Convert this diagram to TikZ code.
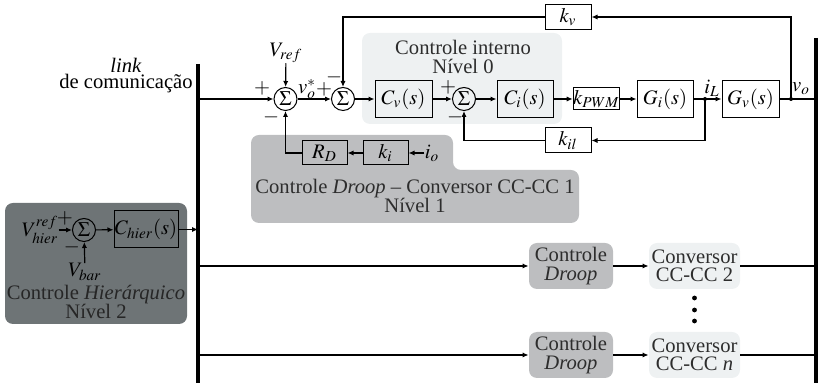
\documentclass[tikz,border=0pt]{standalone}
\usepackage{mathptmx}
\usepackage[no-math]{fontspec}
\setmainfont{Liberation Serif}
\usetikzlibrary{arrows.meta,positioning,calc}
\definecolor{innerbg}{RGB}{238,241,242}
\definecolor{droopbg}{RGB}{189,190,192}
\definecolor{hierbg}{RGB}{110,116,118}
\definecolor{txtgray}{RGB}{45,45,45}

\begin{document}
\begin{tikzpicture}[x=0.5pt,y=-0.5pt,>={Latex[length=3pt,width=2.6pt]},
    every node/.style={font=\rmfamily\fontsize{10.3}{9.2}\selectfont,inner sep=0pt},
    sig/.style={line width=0.6pt},
    bus/.style={line width=1.6pt},
    blk/.style={draw,line width=0.5pt,minimum width=28.5pt,minimum height=18.5pt},
    gain/.style={draw,line width=0.5pt,minimum width=23pt,minimum height=12.5pt},
    sumnode/.style={draw,circle,line width=0.5pt,minimum size=11.5pt},
    droopbox/.style={fill=droopbg,rounded corners=4pt,minimum width=42pt,minimum height=23pt,align=center,text=txtgray},
    convbox/.style={fill=innerbg,rounded corners=4pt,minimum width=45.5pt,minimum height=23pt,align=center,text=txtgray}]
  \useasboundingbox (0,0) rectangle (818,383);
  % background areas
  \fill[innerbg,rounded corners=4pt] (362,33) rectangle (562,124);
  \fill[droopbg,rounded corners=4pt] (251,135) -- (453,135) -- (453,170) -- (579,170)
        -- (579,223) -- (251,223) -- cycle;
  \fill[hierbg,rounded corners=4pt] (5,203) rectangle (187,324);
  \node[anchor=base,text=txtgray] at (463,55) {Controle interno};
  \node[anchor=base,text=txtgray] at (463,74) {Nível 0};
  \node[anchor=base,text=txtgray] at (415,194) {Controle \textit{Droop} -- Conversor CC-CC 1};
  \node[anchor=base,text=txtgray] at (415,213) {Nível 1};
  \node[anchor=base,text=black!85] at (96,300) {Controle \textit{Hierárquico}};
  \node[anchor=base,text=black!85] at (96,319) {Nível 2};
  % communication link and output bus
  \coordinate (busT) at (198,64);
  \coordinate (busB) at (198,383);
  \coordinate (outT) at (816,38);
  \coordinate (outB) at (816,383);
  \draw[bus] (busT) -- (busB);
  \draw[bus] (outT) -- (outB);
  \node[anchor=base] at (126,73) {\textit{link}};
  \node[anchor=base] at (126,89) {de comunicação};
  % converter 1: inner loops
  \node[sumnode] (s1) at (285.5,99) {$\Sigma$};
  \node[sumnode] (s2) at (343,99) {$\Sigma$};
  \node[blk] (cv) at (403.5,99) {$C_v(s)$};
  \node[sumnode] (s3) at (464,99) {$\Sigma$};
  \node[blk,minimum width=28pt] (ci) at (525,99) {$C_i(s)$};
  \node[draw,line width=0.5pt,minimum width=22.5pt,minimum height=11pt] (kpwm) at (596.5,99) {$k_{PWM}$};
  \node[blk,minimum width=28pt] (gi) at (665,99) {$G_i(s)$};
  \node[blk] (gv) at (750.5,99) {$G_v(s)$};
  \coordinate (iL) at (705,99);
  \coordinate (vo) at (791,99);
  \node[gain] (kv) at (568,17) {$k_v$};
  \node[gain] (kil) at (568,140.5) {$k_{il}$};
  \node[gain,minimum width=22.5pt,minimum height=12pt] (rd) at (324.5,153) {$R_D$};
  \node[gain,minimum width=22.5pt,minimum height=12pt] (ki) at (385.5,153) {$k_i$};
  \node (io) at (432,153) {$i_o$};
  \node (vref) at (286,53) {$V_{ref}$};
  \node (vstar) at (307,89) {$v_o^*$};
  \node at (712,88) {$i_L$};
  \node at (801,89) {$v_o$};
  \node at (262,88) {$+$};
  \node at (271,117) {$-$};
  \node at (324,89) {$+$};
  \node at (334,77) {$-$};
  \node at (448,87) {$+$};
  \node at (455,117) {$-$};
  \draw[sig,->] (busT |- s1) -- (s1);
  \draw[sig,->] (vref) -- (s1);
  \draw[sig,->] (s1) -- (s2);
  \draw[sig,->] (s2) -- (cv);
  \draw[sig,->] (cv) -- (s3);
  \draw[sig,->] (s3) -- (ci);
  \draw[sig,->] (ci) -- (kpwm);
  \draw[sig,->] (kpwm) -- (gi);
  \draw[sig] (gi) -- (iL);
  \draw[sig,->] (iL) -- (gv);
  \draw[sig] (gv) -- (vo) -- (outT |- vo);
  \fill (iL) circle[radius=1pt];
  \fill (vo) circle[radius=1pt];
  \draw[sig,->] (vo) |- (kv);
  \draw[sig,->] (kv) -| (s2);
  \draw[sig,->] (iL) |- (kil);
  \draw[sig,->] (kil) -| (s3);
  \draw[sig,->] (io) -- (ki);
  \draw[sig,->] (ki) -- (rd);
  \draw[sig,->] (rd) -| (s1);
  % hierarchical level
  \node[sumnode] (hs) at (84,230) {$\Sigma$};
  \node (vhref) at (40,230) {$V_{hier}^{ref}$};
  \node (vbar) at (85,272) {$V_{bar}$};
  \node[blk,minimum width=32pt] (chier) at (146,229.5) {$C_{hier}(s)$};
  \node at (65,218) {$+$};
  \node at (72,247) {$-$};
  \draw[sig,->] (vhref) -- (hs);
  \draw[sig,->] (vbar) -- (hs);
  \draw[sig,->] (hs) -- (chier);
  \draw[sig,->] (chier) -- (busT |- chier);
  % converters 2 ... n
  \node[droopbox] (d2) at (571,266) {Controle\\\textit{Droop}};
  \node[convbox] (c2) at (694.5,266) {Conversor\\CC-CC 2};
  \node[droopbox] (dn) at (571,355) {Controle\\\textit{Droop}};
  \node[convbox] (cn) at (694.5,355) {Conversor\\CC-CC \textit{n}};
  \draw[sig,->] (busT |- d2) -- (d2);
  \draw[sig,->] (d2) -- (c2);
  \draw[sig] (c2) -- (outT |- c2);
  \draw[sig,->] (busT |- dn) -- (dn);
  \draw[sig,->] (dn) -- (cn);
  \draw[sig] (cn) -- (outT |- cn);
  \foreach \y in {298,310,321}
    \fill (694.5,\y) circle[radius=1.2pt];
\end{tikzpicture}
\end{document}
